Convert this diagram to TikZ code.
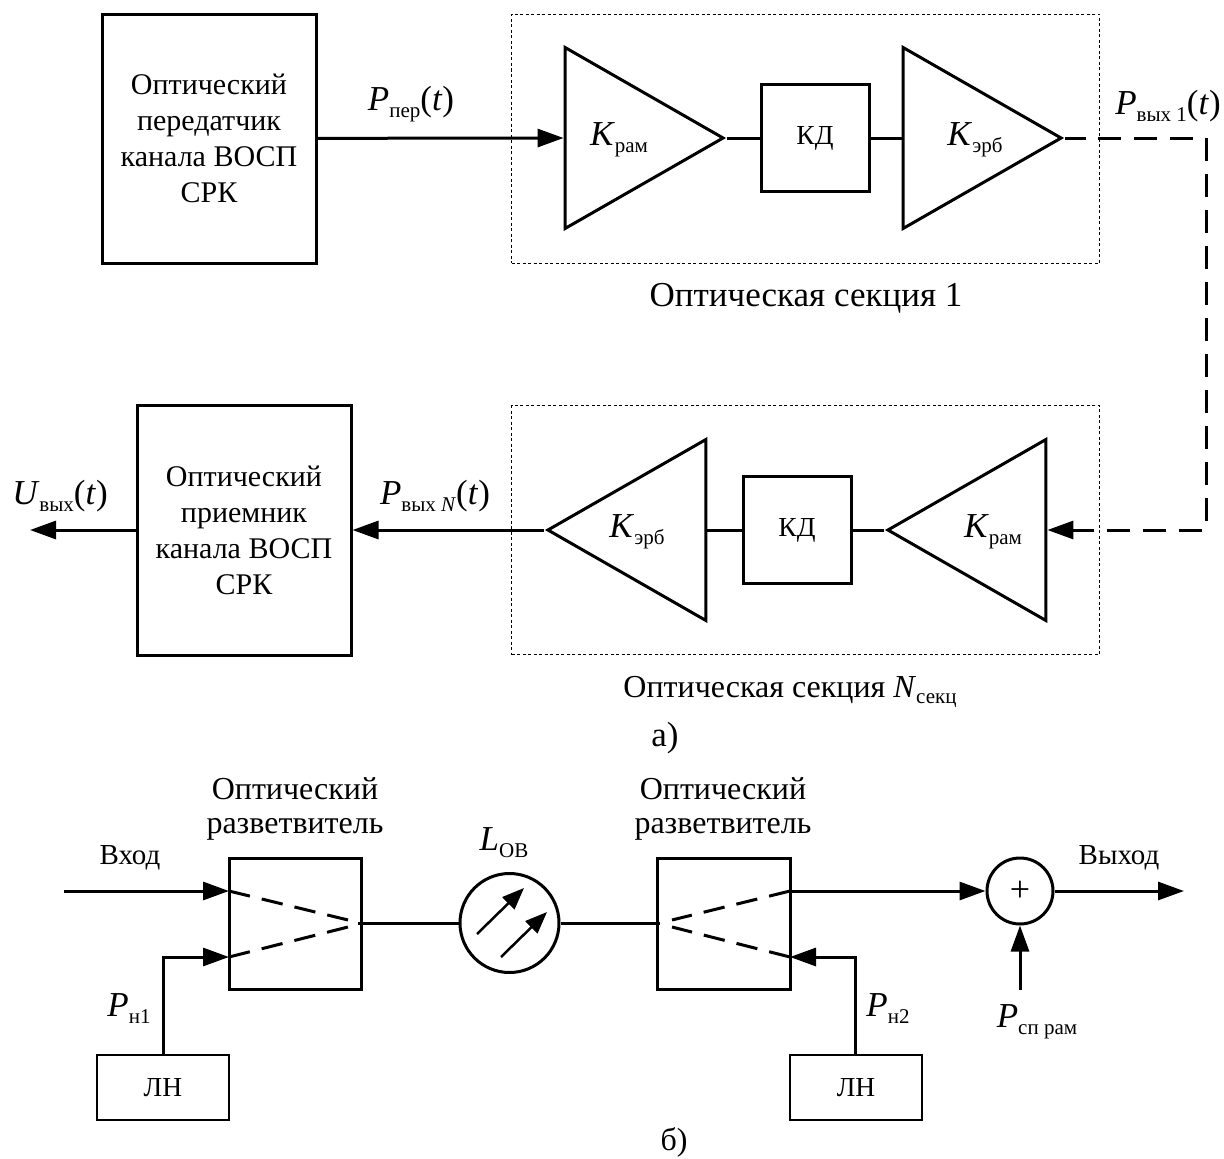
\documentclass[tikz,border=0pt]{standalone}
\usepackage{fontspec}
\setmainfont{Liberation Serif}
\usetikzlibrary{arrows.meta,shapes.geometric}
\newcommand{\ind}[2]{\textit{#1}\raisebox{-.2em}{\fontsize{21}{21}\selectfont #2}}
\tikzset{
  txt/.style={inner sep=0pt,align=center,font=\fontsize{30}{36}\selectfont},
  big/.style={inner sep=0pt,align=center,font=\fontsize{32}{40}\selectfont},
  lab/.style={inner sep=0pt,align=center,font=\fontsize{35}{40}\selectfont},
  small/.style={inner sep=0pt,font=\fontsize{29}{32}\selectfont},
  block/.style={draw,line width=3pt,inner sep=0pt,align=center,font=\fontsize{30}{36}\selectfont},
  tiny/.style={font=\fontsize{27.5}{32}\selectfont},
  section/.style={draw,line width=1pt,dash pattern=on 3pt off 2.5pt,inner sep=0pt,minimum width=588pt,minimum height=249pt},
  amp/.style={draw,line width=3pt,shape=isosceles triangle,isosceles triangle stretches,inner sep=0pt,minimum width=181pt,minimum height=158pt,anchor=apex},
  line/.style={line width=3pt},
  sig/.style={line width=3pt,-{Triangle[length=26pt,width=18pt]}},
  part/.style={line width=3pt,dash pattern=on 23pt off 13pt},
  fork/.style={line width=3pt,dash pattern=on 21.5pt off 12.2pt}
}
\begin{document}
\begin{tikzpicture}[x=1pt,y=-1pt]
\useasboundingbox (0,0) rectangle (1224,1159);

\node[section] (sec1) at (805.5,138.5) {}; \node[section] (sec2) at (805.5,530) {};

\node[block,minimum width=214pt,minimum height=249pt] (tx) at (209,138.5) {Оптический\\передатчик\\канала ВОСП\\СРК};
\node[block,minimum width=214pt,minimum height=250pt] (rx) at (244,530) {Оптический\\приемник\\канала ВОСП\\СРК};

\node[amp] (a1) at (727,138) {}; \node[amp] (a2) at (1065,138) {};
\node[amp,shape border rotate=180] (a3) at (884,530) {}; \node[amp,shape border rotate=180] (a4) at (544,530) {};
\node[block,tiny,minimum width=108pt,minimum height=107pt] (kd1) at (815,138) {КД};
\node[block,tiny,minimum width=108pt,minimum height=107pt] (kd2) at (797,530) {КД};

\node[lab] (k1) at (619,140) {\ind{K}{рам}}; \node[lab] (k2) at (975,140) {\ind{K}{эрб}};
\node[lab] (k3) at (993,532) {\ind{K}{рам}}; \node[lab] (k4) at (637,532) {\ind{K}{эрб}};
\node[lab] (lp1) at (411,104) {\ind{P}{пер}(\textit{t})}; \node[lab] (lp2) at (1168,106) {\ind{P}{вых 1}(\textit{t})};
\node[lab] (lp3) at (435,496) {\ind{P}{вых \textit{N}}(\textit{t})}; \node[lab] (lu) at (60,496) {\ind{U}{вых}(\textit{t})};
\node[lab] (cap1) at (806,298) {Оптическая секция 1}; \node[big] (cap2) at (790,692) {Оптическая секция \ind{N}{секц}};
\node[lab] (capa) at (665,738) {а)}; \node[big] (capb) at (674,1142) {б)};

\coordinate (c0) at (1086,138); \coordinate (c3) at (1098,138); \coordinate (c1) at (1206,138); \coordinate (c2) at (1206,530);
\coordinate (c4) at (1072,530); \coordinate (c5) at (1094,530); \coordinate (o1) at (30,530);

\draw[sig] (tx) -- (a1.lower side);
\draw[line] (a1.apex) -- (kd1); \draw[line] (kd1) -- (a2.lower side);
\draw[line] (a2.apex) -- (c0);
\draw[part] (c3) -- (c1) -- (c2) -- (c4);
\draw[sig] (c5) -- (a3.lower side);
\draw[line] (a3.apex) -- (kd2); \draw[line] (kd2) -- (a4.lower side);
\draw[sig] (a4.apex) -- (rx);
\draw[sig] (rx) -- (o1);

% б)
\node[block,minimum width=132pt,minimum height=131pt] (sp1) at (295,923.5) {};
\node[block,minimum width=133pt,minimum height=131pt] (sp2) at (723.5,923.5) {};
\node[block,tiny,line width=2.5pt,minimum width=132pt,minimum height=65pt] (ln1) at (163,1087.5) {ЛН};
\node[block,tiny,line width=2.5pt,minimum width=132pt,minimum height=65pt] (ln2) at (856,1087.5) {ЛН};
\node[draw,circle,line width=3pt,minimum size=99pt,inner sep=0pt] (ov) at (509.5,923) {};
\node[draw,circle,line width=3pt,minimum size=66pt,inner sep=0pt,font=\fontsize{36}{36}\selectfont] (sum) at (1020,891) {+};

\node[big] (sp1a) at (295,789) {Оптический}; \node[big] (sp1b) at (295,829) {разветвитель};
\node[big] (sp2a) at (723,789) {Оптический}; \node[big] (sp2b) at (723,829) {разветвитель};
\node[small] (in) at (130,858) {Вход}; \node[small] (out) at (1119,858) {Выход};
\node[lab] (lov) at (504,843) {\ind{L}{ОВ}}; \node[lab] (pn1) at (129,1009) {\ind{P}{н1}};
\node[lab] (pn2) at (888,1009) {\ind{P}{н2}}; \node[lab] (pcp) at (1037,1022) {\ind{P}{сп рам}};

\coordinate (s1) at (64,891); \coordinate (s2) at (229,891); \coordinate (s3) at (229,957); \coordinate (s4) at (163,957);
\coordinate (m1) at (348,920); \coordinate (m2) at (348,927); \coordinate (m3) at (672,920); \coordinate (m4) at (672,927);
\coordinate (n1) at (358,923); \coordinate (n2) at (660,923);
\coordinate (d1) at (790,891); \coordinate (d2) at (790,957); \coordinate (d3) at (855,957);
\coordinate (r1) at (1184,891); \coordinate (r2) at (1020,990);
\coordinate (e1) at (477,934); \coordinate (e2) at (524,888); \coordinate (e3) at (501,957); \coordinate (e4) at (547,912);

\draw[sig] (s1) -- (s2);
\draw[sig] (ln1.north) -- (s4) -- (s3);
\draw[fork] (s2) -- (m1); \draw[fork] (s3) -- (m2);
\draw[line] (n1) -- (ov); \draw[line] (ov) -- (n2);
\draw[fork] (d1) -- (m3); \draw[fork] (d2) -- (m4);
\draw[sig] (d1) -- (sum);
\draw[sig] (ln2.north -| d3) -- (d3) -- (d2);
\draw[sig] (sum) -- (r1);
\draw[sig] (r2) -- (sum);
\draw[line width=2.5pt,-{Triangle[length=22pt,width=17pt]}] (e1) -- (e2);
\draw[line width=2.5pt,-{Triangle[length=22pt,width=17pt]}] (e3) -- (e4);
\end{tikzpicture}
\end{document}
